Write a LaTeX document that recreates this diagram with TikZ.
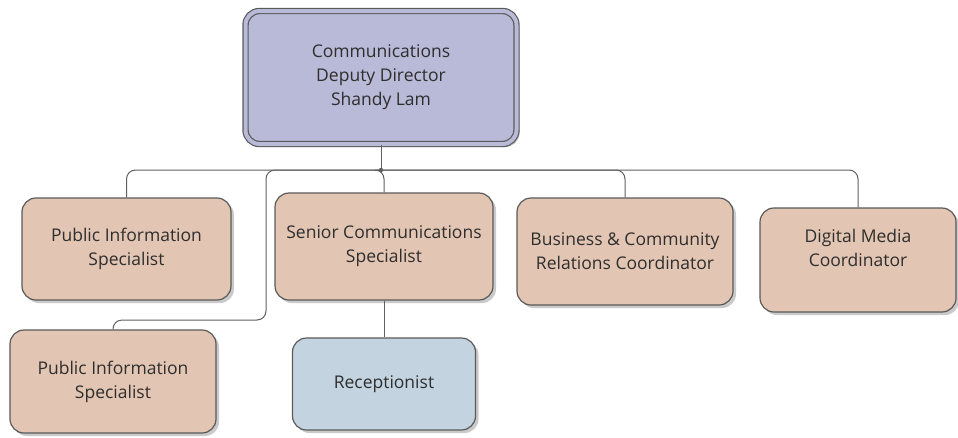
\documentclass[tikz,border=0pt]{standalone}
\usepackage{fontspec}
\setmainfont{Open Sans}
\usetikzlibrary{shadows}

\definecolor{boxline}{HTML}{5A5A5A}
\definecolor{peach}{HTML}{E3C5B3}
\definecolor{lavender}{HTML}{B9B9D8}
\definecolor{paleblue}{HTML}{C3D4E0}
\definecolor{wire}{HTML}{606060}
\definecolor{ink}{HTML}{2E2E2E}

\tikzset{
    role/.style={draw=boxline, line width=1.2pt, rounded corners=14pt, align=center,
        text=ink, font=\fontsize{17.5}{24}\selectfont, inner sep=0pt,
        drop shadow={shadow xshift=3pt, shadow yshift=-3pt, fill=black!35, opacity=0.6}},
    staff/.style={role, fill=peach},
    wiring/.style={draw=wire, line width=1pt, rounded corners=9pt}
}

\begin{document}
\begin{tikzpicture}[x=1pt, y=-1pt]
    \useasboundingbox (0,0) rectangle (958,437);
    % top of the chart
    \node[role, fill=lavender, double=lavender, double distance=4pt,
          minimum width=271pt, minimum height=133pt] (deputy) at (381,77.5)
          {Communications\\Deputy Director\\Shandy Lam};
    % first row
    \node[staff, minimum width=209pt, minimum height=102pt] (pisA) at (126.5,249)
          {Public Information\\Specialist};
    \node[staff, minimum width=218pt, minimum height=107pt] (senior) at (384,246.5)
          {Senior Communications\\Specialist};
    \node[staff, minimum width=216pt, minimum height=107pt] (bcrc) at (625,251.5)
          {Business \& Community\\Relations Coordinator};
    \node[staff, minimum width=196pt, minimum height=104pt] (dmc) at (858,260)
          {Digital Media\\Coordinator\\\mbox{}};
    % second row
    \node[staff, minimum width=206pt, minimum height=103pt] (pisB) at (113,381.5)
          {Public Information\\Specialist};
    \node[role, fill=paleblue, minimum width=183pt, minimum height=92pt] (recep) at (384,384)
          {Receptionist};

    % bus under the director
    \coordinate (bus) at (381,170);
    \coordinate (bend) at (266,320);
    \draw[wiring] (deputy.south) -- (bus);
    \draw[wiring] (bus) -| (pisA.north);
    \draw[wiring] (bus) -| (senior.north);
    \draw[wiring] (bus) -| (bcrc.north);
    \draw[wiring] (bus) -| (dmc.north);
    \draw[wiring] (bus) -| (bend) -| (pisB.north);
    \draw[wiring] (senior.south) -- (recep.north);
    \fill[wire] (bus) circle (2.2pt);
\end{tikzpicture}
\end{document}
